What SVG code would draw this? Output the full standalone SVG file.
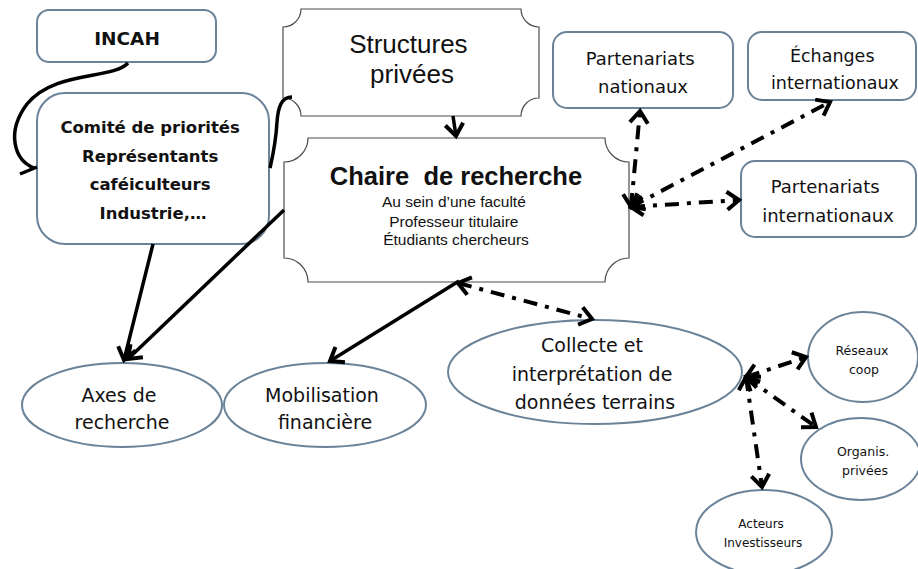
<svg xmlns="http://www.w3.org/2000/svg" width="918" height="569" viewBox="0 0 918 569">
  <defs>
    <style>
      .box { fill: #ffffff; stroke: #6b8399; stroke-width: 2; }
      .plaque { fill: #ffffff; stroke: #4d4d4d; stroke-width: 1.2; }
      .lbl { font-family: "DejaVu Sans", "Liberation Sans", sans-serif; fill: #111; text-anchor: middle; }
      .arial { font-family: "Liberation Sans", Arial, sans-serif; fill: #111; text-anchor: middle; }
      .solid { fill: none; stroke: #000; stroke-width: 3.5; }
      .dd { fill: none; stroke: #000; stroke-width: 4; stroke-dasharray: 14 8 4 8; }
      .head { fill: none; stroke: #000; stroke-width: 4; stroke-dasharray: none; stroke-linejoin: miter; }
    </style>
    <marker id="arr" markerUnits="userSpaceOnUse" markerWidth="24" markerHeight="24" refX="15" refY="12" orient="auto-start-reverse" viewBox="0 0 24 24">
      <path class="head" d="M3,3 L15,12 L3,21"/>
    </marker>
  </defs>

  <!-- nodes -->
  <g id="incah">
    <rect class="box" x="37" y="10" width="179" height="52" rx="12"/>
    <text class="lbl" x="127" y="45" font-size="18.5" font-weight="bold">INCAH</text>
  </g>

  <g id="comite">
    <rect class="box" x="37" y="93" width="232" height="151" rx="28"/>
    <text class="lbl" font-size="16.5" font-weight="bold">
      <tspan x="153" y="133">Comité de priorités</tspan>
      <tspan x="153" y="162">Représentants</tspan>
      <tspan x="153" y="190">caféiculteurs</tspan>
      <tspan x="153" y="219">Industrie,…</tspan>
    </text>
  </g>

  <g id="structures">
    <path class="plaque" d="M301,9 L521,9 A18,18 0 0 0 539,27 L539,98 A18,18 0 0 0 521,116 L301,116 A18,18 0 0 0 283,98 L283,27 A18,18 0 0 0 301,9 Z"/>
    <text class="arial" font-size="26">
      <tspan x="412" y="53">Structures</tspan>
      <tspan x="412" y="83">privées</tspan>
    </text>
  </g>

  <g id="chaire">
    <path class="plaque" d="M308,138 L605,138 A24,24 0 0 0 629,162 L629,258 A24,24 0 0 0 605,282 L308,282 A24,24 0 0 0 284,258 L284,162 A24,24 0 0 0 308,138 Z"/>
    <text class="arial" x="456" y="185" font-size="25.5" font-weight="bold" xml:space="preserve">Chaire  de recherche</text>
    <text class="arial" font-size="15.5">
      <tspan x="456" y="207">Au sein d’une faculté</tspan>
      <tspan x="456" y="227">Professeur titulaire</tspan>
      <tspan x="456" y="245">Étudiants chercheurs</tspan>
    </text>
  </g>

  <g id="part-nat">
    <rect class="box" x="553" y="32" width="180" height="76" rx="14"/>
    <text class="lbl" font-size="18">
      <tspan x="643" y="65">Partenariats</tspan>
      <tspan x="643" y="93">nationaux</tspan>
    </text>
  </g>

  <g id="echanges">
    <rect class="box" x="748" y="32" width="168" height="68" rx="14"/>
    <text class="lbl" font-size="17.5">
      <tspan x="835" y="62">Échanges</tspan>
      <tspan x="835" y="89">internationaux</tspan>
    </text>
  </g>

  <g id="part-int">
    <rect class="box" x="741" y="161" width="175" height="76" rx="14"/>
    <text class="lbl" font-size="18">
      <tspan x="828" y="193">Partenariats</tspan>
      <tspan x="828" y="222">internationaux</tspan>
    </text>
  </g>

  <g id="axes">
    <ellipse class="box" cx="122" cy="405" rx="100" ry="42"/>
    <text class="lbl" font-size="19">
      <tspan x="122" y="402">Axes de</tspan>
      <tspan x="122" y="429">recherche</tspan>
    </text>
  </g>

  <g id="mobilisation">
    <ellipse class="box" cx="325" cy="405" rx="101" ry="42"/>
    <text class="lbl" font-size="19">
      <tspan x="325" y="402">Mobilisation</tspan>
      <tspan x="325" y="429">financière</tspan>
    </text>
  </g>

  <g id="collecte">
    <ellipse class="box" cx="595" cy="372" rx="147" ry="52"/>
    <text class="lbl" font-size="19">
      <tspan x="595" y="352">Collecte et</tspan>
      <tspan x="595" y="381">interprétation de</tspan>
      <tspan x="595" y="409">données terrains</tspan>
    </text>
  </g>

  <g id="reseaux">
    <ellipse class="box" cx="863" cy="357" rx="55" ry="45"/>
    <text class="lbl" font-size="12.5">
      <tspan x="864" y="355">Réseaux</tspan>
      <tspan x="864" y="374">coop</tspan>
    </text>
  </g>

  <g id="organis">
    <ellipse class="box" cx="861" cy="459" rx="60" ry="41"/>
    <text class="lbl" font-size="12.5">
      <tspan x="865" y="456">Organis.</tspan>
      <tspan x="865" y="475">privées</tspan>
    </text>
  </g>

  <g id="acteurs">
    <ellipse class="box" cx="764" cy="532" rx="68" ry="42"/>
    <text class="lbl" font-size="12">
      <tspan x="763" y="528">Acteurs</tspan>
      <tspan x="763" y="547">Investisseurs</tspan>
    </text>
  </g>

  <!-- connectors -->
  <g id="connectors">
    <!-- curved links -->
    <path class="solid" d="M128,63 C112,80 55,70 27,104 C6,132 14,160 34,168"/>
    <path class="solid" d="M20,174 L37,167"/>
    <path class="solid" d="M292,97 C281,97 278,108 277,122 C276,140 273,155 270,168"/>

    <!-- solid arrows -->
    <path class="solid" d="M453,116 L456,136" marker-end="url(#arr)"/>
    <path class="solid" d="M153,244 L124,360" marker-end="url(#arr)"/>
    <path class="solid" d="M284,210 L128,359" marker-end="url(#arr)"/>
    <path class="solid" d="M459,281 L330,361" marker-end="url(#arr)"/>

    <!-- dash-dot double arrows -->
    <path class="dd" d="M631,207 L640,111" marker-start="url(#arr)" marker-end="url(#arr)"/>
    <path class="dd" d="M631,207 L830,102" marker-start="url(#arr)" marker-end="url(#arr)"/>
    <path class="dd" d="M631,207 L739,200" marker-start="url(#arr)" marker-end="url(#arr)"/>
    <path class="dd" d="M458,283 L592,319" marker-start="url(#arr)" marker-end="url(#arr)"/>
    <path class="dd" d="M746,377 L806,357" marker-start="url(#arr)" marker-end="url(#arr)"/>
    <path class="dd" d="M746,377 L816,427" marker-start="url(#arr)" marker-end="url(#arr)"/>
    <path class="dd" d="M746,377 L762,487" marker-start="url(#arr)" marker-end="url(#arr)"/>
  </g>
</svg>
